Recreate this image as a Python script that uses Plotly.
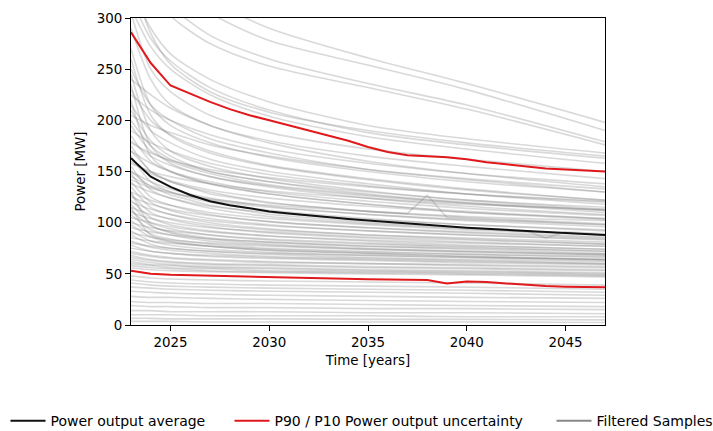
import plotly.graph_objects as go

# ---------------- data ----------------
YEARS = list(range(2023, 2048))
AVG = [163, 145, 135, 127, 121, 117, 114, 111, 109, 107, 105, 103.5, 102,
       100.5, 99, 98, 96.5, 95, 94, 93, 92, 91, 90, 89, 88]
P10 = [286, 256, 234, 226, 218, 211, 205, 200, 195, 190, 185, 180, 174,
       169, 166, 165, 164, 162, 159, 157, 155, 153, 152, 151, 150]
P90 = [53, 50, 49, 48.5, 48, 47.5, 47, 46.5, 46, 45.5, 45, 44.8, 44.6,
       44.4, 44.2, 44, 40.5, 42.5, 42, 40.5, 39, 38, 37.5, 37, 37]

SAMPLE_YEARS = [2023, 2024, 2025, 2027, 2030, 2035, 2040, 2047]

SAMPLES_HIGH = [
    [390, 365, 345, 318, 290, 261, 236, 198],
    [400, 360, 335, 305, 278, 254, 230, 190],
    [370, 335, 312, 283, 260, 236, 215, 179],
    [360, 325, 302, 275, 253, 232, 211, 176],
    [330, 290, 265, 240, 218, 195, 182, 168],
    [320, 280, 258, 232, 210, 188, 176, 163],
    [310, 272, 250, 225, 204, 184, 172, 158],
    [305, 250, 228, 205, 188, 172, 162, 150],
    [340, 285, 255, 228, 208, 190, 178, 165],
]

SAMPLES_STEEP = [
    [290, 240, 215, 195, 180, 165, 155, 143],
    [270, 215, 195, 178, 164, 150, 140, 130],
    [260, 205, 185, 168, 155, 142, 132, 122],
    [245, 190, 170, 155, 143, 131, 122, 113],
    [235, 175, 158, 145, 135, 124, 116, 108],
    [220, 165, 150, 138, 128, 118, 110, 103],
    [130, 98, 90, 84, 79, 75, 72, 69],
    [115, 88, 82, 77, 73, 70, 67, 64],
]

SAMPLES_MID = [
    [250, 215, 200, 182, 168, 152, 142, 130],
    [240, 225, 212, 195, 178, 160, 148, 135],
    [230, 200, 186, 170, 156, 143, 133, 122],
    [225, 210, 200, 186, 172, 158, 148, 138],
    [215, 190, 178, 162, 150, 138, 128, 118],
    [210, 180, 165, 150, 140, 130, 122, 115],
    [205, 195, 188, 176, 165, 152, 143, 133],
    [200, 175, 162, 150, 140, 128, 120, 112],
    [195, 170, 160, 148, 137, 127, 119, 110],
    [190, 178, 170, 158, 147, 136, 128, 120],
    [185, 160, 150, 138, 128, 118, 111, 104],
    [180, 165, 156, 145, 136, 126, 119, 112],
    [175, 150, 140, 130, 120, 111, 105, 99],
    [170, 158, 150, 140, 130, 121, 114, 107],
    [165, 140, 130, 120, 112, 104, 98, 92],
    [160, 148, 141, 132, 124, 116, 110, 104],
    [155, 132, 124, 114, 106, 99, 94, 88],
    [150, 140, 133, 124, 116, 108, 102, 96],
    [148, 125, 117, 108, 101, 95, 90, 85],
    [145, 136, 130, 122, 115, 108, 103, 98],
    [140, 120, 112, 104, 98, 92, 88, 83],
    [138, 130, 124, 116, 110, 103, 98, 93],
    [135, 115, 108, 100, 94, 88, 84, 79],
    [130, 122, 117, 110, 104, 98, 93, 88],
    [128, 110, 103, 96, 90, 85, 81, 77],
    [125, 118, 113, 107, 101, 95, 91, 86],
    [122, 105, 98, 92, 87, 82, 78, 74],
    [120, 113, 108, 102, 97, 92, 88, 84],
    [118, 100, 94, 88, 83, 79, 76, 72],
    [115, 108, 104, 98, 93, 88, 85, 81],
    [112, 97, 91, 85, 81, 77, 74, 70],
    [110, 104, 100, 95, 91, 86, 83, 79],
    [108, 93, 88, 82, 78, 74, 71, 68],
    [105, 100, 96, 91, 87, 83, 80, 77],
    [102, 89, 84, 79, 75, 72, 69, 66],
    [100, 95, 92, 88, 84, 80, 77, 74],
    [98, 86, 81, 77, 73, 70, 67, 64],
    [95, 91, 88, 84, 81, 77, 75, 72],
    [92, 82, 78, 74, 71, 68, 66, 63],
    [90, 86, 83, 80, 77, 74, 72, 69],
    [88, 79, 75, 72, 69, 66, 64, 62],
    [85, 82, 80, 77, 74, 71, 69, 67],
    [82, 76, 73, 70, 67, 65, 63, 60],
    [80, 77, 75, 72, 70, 68, 66, 64],
    [78, 72, 70, 67, 65, 63, 61, 59],
    [75, 72, 70, 68, 66, 64, 62, 60],
    [72, 68, 66, 64, 62, 60, 59, 57],
    [70, 67, 65, 63, 61, 60, 58, 56],
    [68, 64, 62, 60, 59, 57, 56, 54],
    [66, 63, 61, 59, 58, 56, 55, 53],
    [64, 61, 59, 57, 56, 54, 53, 51],
    [62, 59, 58, 56, 55, 53, 52, 50],
    [60, 58, 56, 55, 53, 52, 51, 49],
    [58, 56, 55, 53, 52, 51, 50, 48],
    [56, 54, 53, 52, 51, 50, 49, 47],
    [178, 168, 161, 152, 144, 135, 128, 121],
    [158, 150, 145, 138, 131, 124, 118, 113],
    [142, 134, 129, 123, 117, 111, 106, 102],
]

SAMPLES_LOW = [
    [48, 46, 45, 44, 43, 42, 41, 39],
    [44, 42, 41, 40, 39, 38, 37, 35],
    [41, 39, 38, 37, 36, 35, 34, 32],
    [37, 36, 35, 34, 33, 32, 31, 29],
    [33, 32, 31, 30, 29, 28, 27, 26],
    [28, 27, 27, 26, 25, 24, 23, 22],
    [23, 22, 22, 21, 21, 20, 19, 18],
    [19, 18, 18, 17, 17, 16, 16, 15],
    [14, 14, 13, 13, 13, 12, 12, 11],
    [10, 10, 10, 9, 9, 9, 8, 8],
    [6.5, 6.5, 6, 6, 6, 5.5, 5.5, 5],
    [3.5, 3.5, 3.5, 3, 3, 3, 3, 2.5],
]

SPIKE_YEARS = [2023, 2024, 2025, 2027, 2030, 2035, 2037, 2038, 2039, 2040, 2047]
SPIKE_VALUES = [170, 150, 140, 128, 119, 111, 109, 127, 105, 104, 98]
DIP_YEARS = [2023, 2024, 2025, 2027, 2030, 2035, 2040, 2043, 2044, 2045, 2047]
DIP_VALUES = [150, 135, 127, 117, 108, 100, 95, 92, 85, 91, 89]

X_TICKS = [2025, 2030, 2035, 2040, 2045]
Y_TICKS = [0, 50, 100, 150, 200, 250, 300]

# ---------------- styles ----------------
GRAY = "rgba(128,128,128,0.3)"
RED = "#e0191c"
BLACK = "#111111"
FONT = "DejaVu Sans"
FSIZE = 13.4
LEG_FSIZE = 14

fig = go.Figure()

smooth_samples = [(SAMPLE_YEARS, s) for s in SAMPLES_HIGH + SAMPLES_STEEP + SAMPLES_MID + SAMPLES_LOW]
for xs, ys in smooth_samples:
    fig.add_trace(go.Scatter(x=xs, y=ys, mode="lines",
                             line=dict(color=GRAY, width=1.6, shape="spline", smoothing=0.8),
                             showlegend=False, hoverinfo="skip"))
for xs, ys in [(SPIKE_YEARS, SPIKE_VALUES), (DIP_YEARS, DIP_VALUES)]:
    fig.add_trace(go.Scatter(x=xs, y=ys, mode="lines",
                             line=dict(color=GRAY, width=1.6),
                             showlegend=False, hoverinfo="skip"))

fig.add_trace(go.Scatter(x=YEARS, y=P10, mode="lines", line=dict(color=RED, width=2),
                         showlegend=False))
fig.add_trace(go.Scatter(x=YEARS, y=P90, mode="lines", line=dict(color=RED, width=2),
                         showlegend=False))
fig.add_trace(go.Scatter(x=YEARS, y=AVG, mode="lines", line=dict(color=BLACK, width=2),
                         showlegend=False))

# legend entries
fig.add_trace(go.Scatter(x=[None], y=[None], mode="lines", line=dict(color=BLACK, width=2),
                         name="Power output average", legend="legend"))
fig.add_trace(go.Scatter(x=[None], y=[None], mode="lines", line=dict(color=RED, width=2),
                         name="P90 / P10 Power output uncertainty", legend="legend2"))
fig.add_trace(go.Scatter(x=[None], y=[None], mode="lines", line=dict(color="#888888", width=2),
                         name="Filtered Samples", legend="legend3"))

axis_common = dict(showline=True, linecolor="black", linewidth=1, mirror=True,
                   ticks="outside", ticklen=5, tickcolor="black", showgrid=False,
                   zeroline=False, tickfont=dict(family=FONT, size=FSIZE, color="black"))

leg_common = dict(orientation="h", yanchor="middle", y=-0.313, xanchor="left",
                  itemwidth=35, bgcolor="rgba(0,0,0,0)",
                  font=dict(family=FONT, size=LEG_FSIZE, color="black"))

fig.update_layout(
    width=713, height=431,
    margin=dict(l=131, r=108, t=18, b=106, autoexpand=False),
    plot_bgcolor="white", paper_bgcolor="white",
    font=dict(family=FONT, size=FSIZE, color="black"),
    xaxis=dict(range=[2023, 2047], tickvals=X_TICKS,
               title=dict(text="Time [years]", standoff=6,
                          font=dict(family=FONT, size=FSIZE, color="black")),
               **axis_common),
    yaxis=dict(range=[0, 300], tickvals=Y_TICKS,
               title=dict(text="Power [MW]", standoff=8,
                          font=dict(family=FONT, size=FSIZE, color="black")),
               **axis_common),
    legend=dict(x=(5.5 - 131) / 474, **leg_common),
    legend2=dict(x=(229.5 - 131) / 474, **leg_common),
    legend3=dict(x=(551.5 - 131) / 474, **leg_common),
)

fig.write_html("out.html")
